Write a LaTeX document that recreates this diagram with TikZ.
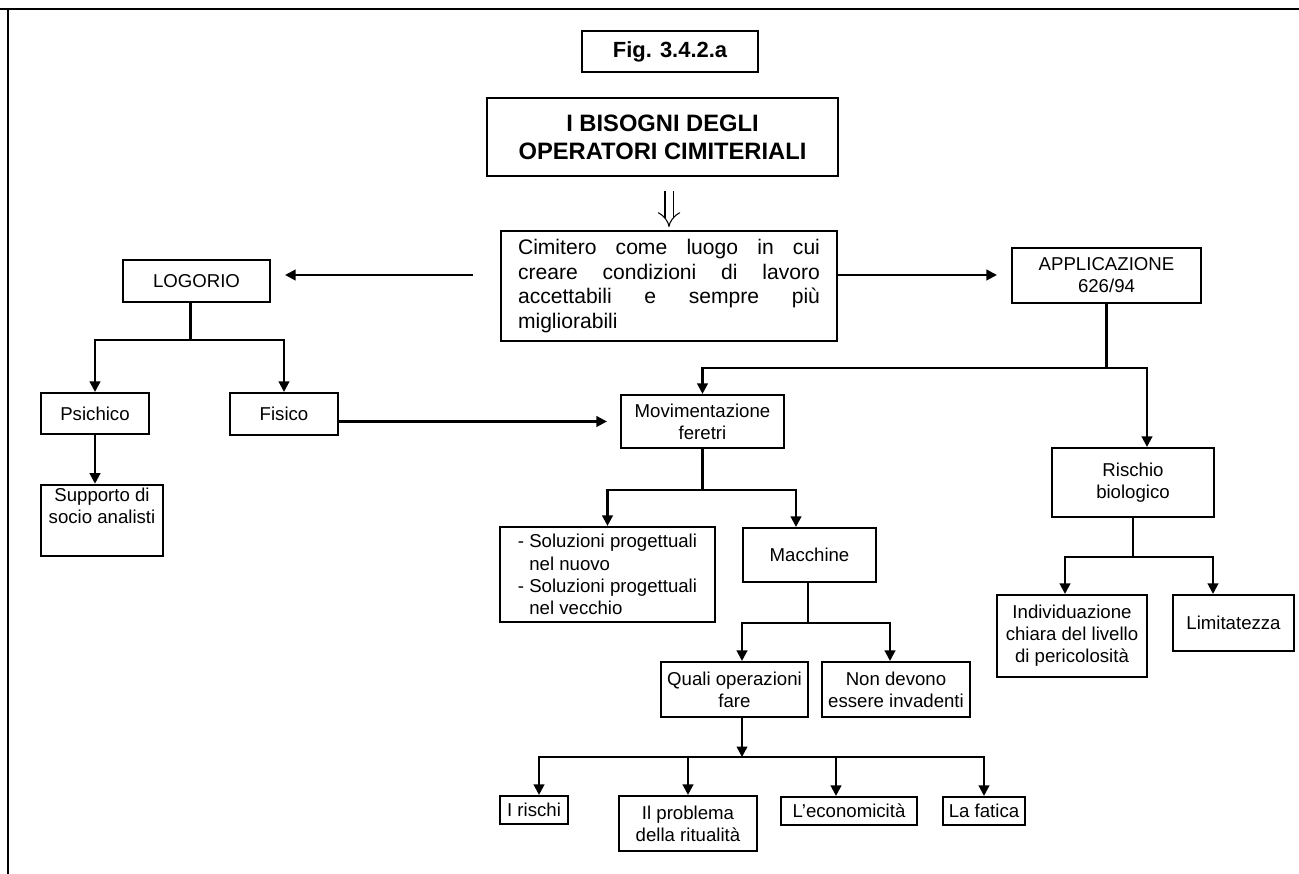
\documentclass[tikz,border=0pt]{standalone}
\usepackage{fontspec}
\setmainfont{Liberation Sans}
\usetikzlibrary{arrows.meta,calc}

\begin{document}
\begin{tikzpicture}[
  x=0.02cm, y=-0.02cm,
  >={Triangle[length=2.1mm,width=2.1mm]},
  box/.style={draw,line width=1.2pt,align=center,inner sep=2pt,
    font=\fontsize{10.6}{12.6}\selectfont},
  leaf/.style={box,inner sep=1pt},
  link/.style={line width=1.3pt},
  arr/.style={->,line width=1.3pt},
  dbl/.style={line width=0.6pt,double distance=1.4mm,-{Implies[scale=1.6]}},
]
\useasboundingbox (0,0) rectangle (1299,874);
\draw[line width=1.6pt] (0,9) -- (1299,9);
\draw[line width=1.3pt] (8,9) -- (8,874);

% ===== TOP =====
\node[box,font=\bfseries\fontsize{12.5}{15}\selectfont,minimum width=3.52cm,minimum height=0.82cm] (fig) at (670,51.5) {Fig. 3.4.2.a};
\node[box,font=\bfseries\fontsize{13.5}{16}\selectfont,minimum width=7.02cm,minimum height=1.56cm] (title) at (662.5,137) {I BISOGNI DEGLI\\OPERATORI CIMITERIALI};
\node[box,font=\fontsize{12}{14}\selectfont,align=justify,text width=6.04cm,minimum width=6.72cm,minimum height=2.2cm] (cim) at (669,286)
  {Cimitero come luogo in cui\linebreak creare condizioni di lavoro\linebreak accettabili e sempre più\linebreak migliorabili};
\draw[dbl,shorten <=0.28cm,shorten >=0.06cm] (title.south -| cim.north) -- (cim.north);

% ===== LEFT: logorio =====
\node[box,minimum width=2.94cm,minimum height=0.84cm] (logorio) at (196.5,281) {LOGORIO};
\node[box,minimum width=2.16cm,minimum height=0.82cm] (psichico) at (95,413.5) {Psichico};
\node[box,minimum width=2.16cm,minimum height=0.84cm] (fisico) at (284,414) {Fisico};
\node[box,minimum width=2.44cm,minimum height=1.34cm] (supporto) at (102,520.5) {Supporto di\\socio analisti\\\strut};

% ===== RIGHT: applicazione =====
\node[box,minimum width=3.78cm,minimum height=1.1cm] (appl) at (1106.5,275.5) {APPLICAZIONE\\626/94};
\node[box,minimum width=3.26cm,minimum height=1.06cm] (movim) at (702.5,421.5) {Movimentazione\\feretri};
\node[box,minimum width=3.24cm,minimum height=1.38cm] (rischio) at (1133,482.5) {Rischio\\biologico};
\node[box,align=left,minimum width=4.3cm,minimum height=1.9cm] (soluz) at (607.5,574.5)
  {- Soluzioni progettuali\\\phantom{- }nel nuovo\\- Soluzioni progettuali\\\phantom{- }nel vecchio};
\node[box,minimum width=2.66cm,minimum height=1.08cm] (macch) at (809.5,555) {Macchine};
\node[box,minimum width=3.0cm,minimum height=1.64cm] (indiv) at (1072,636) {Individuazione\\chiara del livello\\di pericolosità};
\node[box,minimum width=2.42cm,minimum height=1.12cm] (limit) at (1233.5,623) {Limitatezza};
\node[box,minimum width=2.94cm,minimum height=1.1cm] (quali) at (734.5,689.5) {Quali operazioni\\fare};
\node[box,inner sep=1pt,minimum width=2.96cm,minimum height=1.1cm] (nondev) at (896,689.5) {Non devono\\essere invadenti};

% ===== BOTTOM: leaves =====
\node[leaf,minimum width=1.36cm,minimum height=0.56cm] (rischi) at (534,810) {I rischi};
\node[leaf,minimum width=2.76cm,minimum height=1.1cm] (rituale) at (688,823.5) {Il problema\\della ritualità};
\node[leaf,minimum width=2.72cm,minimum height=0.56cm] (econ) at (849,811) {L'economicità};
\node[leaf,minimum width=1.64cm,minimum height=0.56cm] (fatica) at (984,811) {La fatica};

% ===== connectors =====
\coordinate (cl) at ($(cim.west)+(0,-11)$);
\draw[arr,shorten <=0.54cm,shorten >=0.28cm] (cl) -- (cl -| logorio.east);
\draw[arr,shorten >=0.28cm] (cl -| cim.east) -- (cl -| appl.west);

\draw[link] ($(logorio.south)+(-6,0)$) -- ++(0,37) coordinate (lb);
\draw[arr] (lb) -| (psichico.north);
\draw[arr] (lb) -| (fisico.north);
\draw[arr] (psichico.south) -- (psichico.south |- supporto.north);
\draw[arr,shorten >=0.26cm] (fisico.east |- movim.west) -- (movim.west);

\draw[link] (appl.south) -- ++(0,64) coordinate (ab);
\draw[arr] (ab) -| (movim.north);
\draw[arr] (ab) -| ($(rischio.north)+(14,0)$);

\draw[link] (rischio.south) -- ++(0,39) coordinate (rb);
\draw[arr] (rb) -| ($(indiv.north)+(-7,0)$);
\draw[arr] (rb) -| ($(limit.north)+(-20.5,0)$);

\draw[link] (movim.south) -- ++(0,41) coordinate (mb);
\draw[arr] (mb) -| (soluz.north);
\draw[arr] (mb) -| ($(macch.north)+(-13.5,0)$);

\draw[link] ($(macch.south)+(-1.5,0)$) -- ++(0,40) coordinate (qb);
\draw[arr] (qb) -| ($(quali.north)+(7.5,0)$);
\draw[arr] (qb) -| ($(nondev.north)+(-6,0)$);

\draw[arr] ($(quali.south)+(7.5,0)$) -- ++(0,39) coordinate (fb);
\draw[arr] (fb) -| ($(rischi.north)+(5,0)$);
\draw[arr] (fb) -| (rituale.north);
\draw[arr] (fb) -| ($(econ.north)+(-13,0)$);
\draw[arr] (fb) -| (fatica.north);
\end{tikzpicture}
\end{document}
